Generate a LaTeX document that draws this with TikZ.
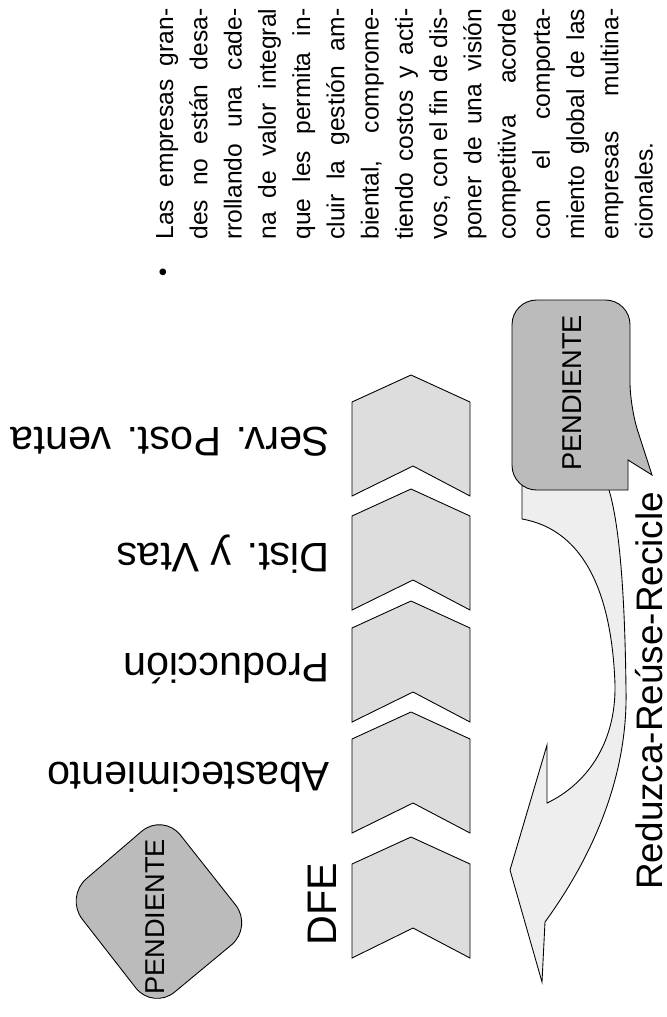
\documentclass[tikz,border=0pt]{standalone}
\usepackage{fontspec}
\setmainfont{Liberation Sans}
\usetikzlibrary{positioning}
\definecolor{chevgray}{HTML}{DDDDDD}
\definecolor{notegray}{HTML}{BBBBBB}
\definecolor{arrowgray}{HTML}{EEEEEE}
\newlength{\parw}
\setlength{\parw}{4.62cm}

\begin{document}
\begin{tikzpicture}[x=0.02cm, y=-0.02cm,
  chev/.style={draw=black, fill=chevgray, line width=0.5pt},
  note/.style={draw=black, fill=notegray, line width=0.5pt},
  stage/.style={rotate=180, anchor=base west, inner sep=0pt, font=\fontsize{23.5}{28}\selectfont},
  notetext/.style={rotate=90, inner sep=0pt, font=\fontsize{15.5}{18}\selectfont},
  parline/.style={rotate=90, anchor=base west, inner sep=0pt, font=\fontsize{14}{19.4}\selectfont}]

\useasboundingbox (0,0) rectangle (666,1017);

% cadena de valor
\filldraw[chev] (411,375) -- (470,402) -- (470,496) -- (413,466) -- (352,496) -- (352,402) -- cycle;
\filldraw[chev] (411,489) -- (470,516) -- (470,610) -- (413,580) -- (352,610) -- (352,516) -- cycle;
\filldraw[chev] (411,601) -- (470,628) -- (470,722) -- (413,692) -- (352,722) -- (352,628) -- cycle;
\filldraw[chev] (411,712) -- (470,739) -- (470,833) -- (413,803) -- (352,833) -- (352,739) -- cycle;
\filldraw[chev] (411,837) -- (470,864) -- (470,958) -- (413,928) -- (352,958) -- (352,864) -- cycle;

\node (serv) [stage] at (330,427) {Serv. Post. venta};
\node (dist) [stage] at (330,543) {Dist. y Vtas};
\node (prod) [stage] at (330,653) {Producción};
\node (abast) [stage] at (330,762) {Abastecimiento};
\node (dfe) [rotate=90, anchor=base west, inner sep=0pt, font=\fontsize{23.5}{28}\selectfont] at (336,946) {DFE};

% flecha curva
\filldraw[draw=black, fill=arrowgray, line width=0.5pt]
  (522,484) -- (522,519)
  .. controls (585,530) and (612,595) .. (615,685)
  .. controls (616,745) and (585,785) .. (547,803)
  -- (547,745) -- (510,870) -- (542,982) -- (545,922)
  .. controls (590,860) and (628,780) .. (626,690)
  .. controls (625,600) and (620,520) .. (607,484) -- cycle;
\node (rrr) [rotate=90, anchor=base west, inner sep=0pt, font=\fontsize{21}{25}\selectfont] at (662,890) {Reduzca-Reúse-Recicle};

% globo
\filldraw[note] (571,490) [rounded corners=14pt] -- (512,490) -- (512,300) -- (630,300) -- (630,407)
  [sharp corners] -- (652,475) -- (628,460) -- (628,490) [rounded corners=14pt] -- cycle;
\node (globo) [notetext] at (572,393) {PENDIENTE};

% rombo
\filldraw[note, rounded corners=16pt] (208,870) -- (253,927) -- (153,1010) -- (65,897) -- (163,813) -- cycle;
\node (rombo) [notetext] at (155,917) {PENDIENTE};

% texto
\node (bul) [inner sep=0pt, font=\fontsize{14}{16}\selectfont] at (163,275) {\textbullet};
\foreach \txt [count=\row from 0] in {{Las empresas gran-}, {des no están desa-}, {rrollando una cade-},
  {na de valor integral}, {que les permita in-}, {cluir la gestión am-}, {biental, comprome-},
  {tiendo costos y acti-}, {vos, con el fin de dis-}, {poner de una visión}, {competitiva acorde},
  {con el comporta-}, {miento global de las}, {empresas multina-}, {cionales.\hfill}}
  \node (lin\row) [parline] at (173+34.25*\row,240) {\hbox to\parw{\txt}};

\end{tikzpicture}
\end{document}
